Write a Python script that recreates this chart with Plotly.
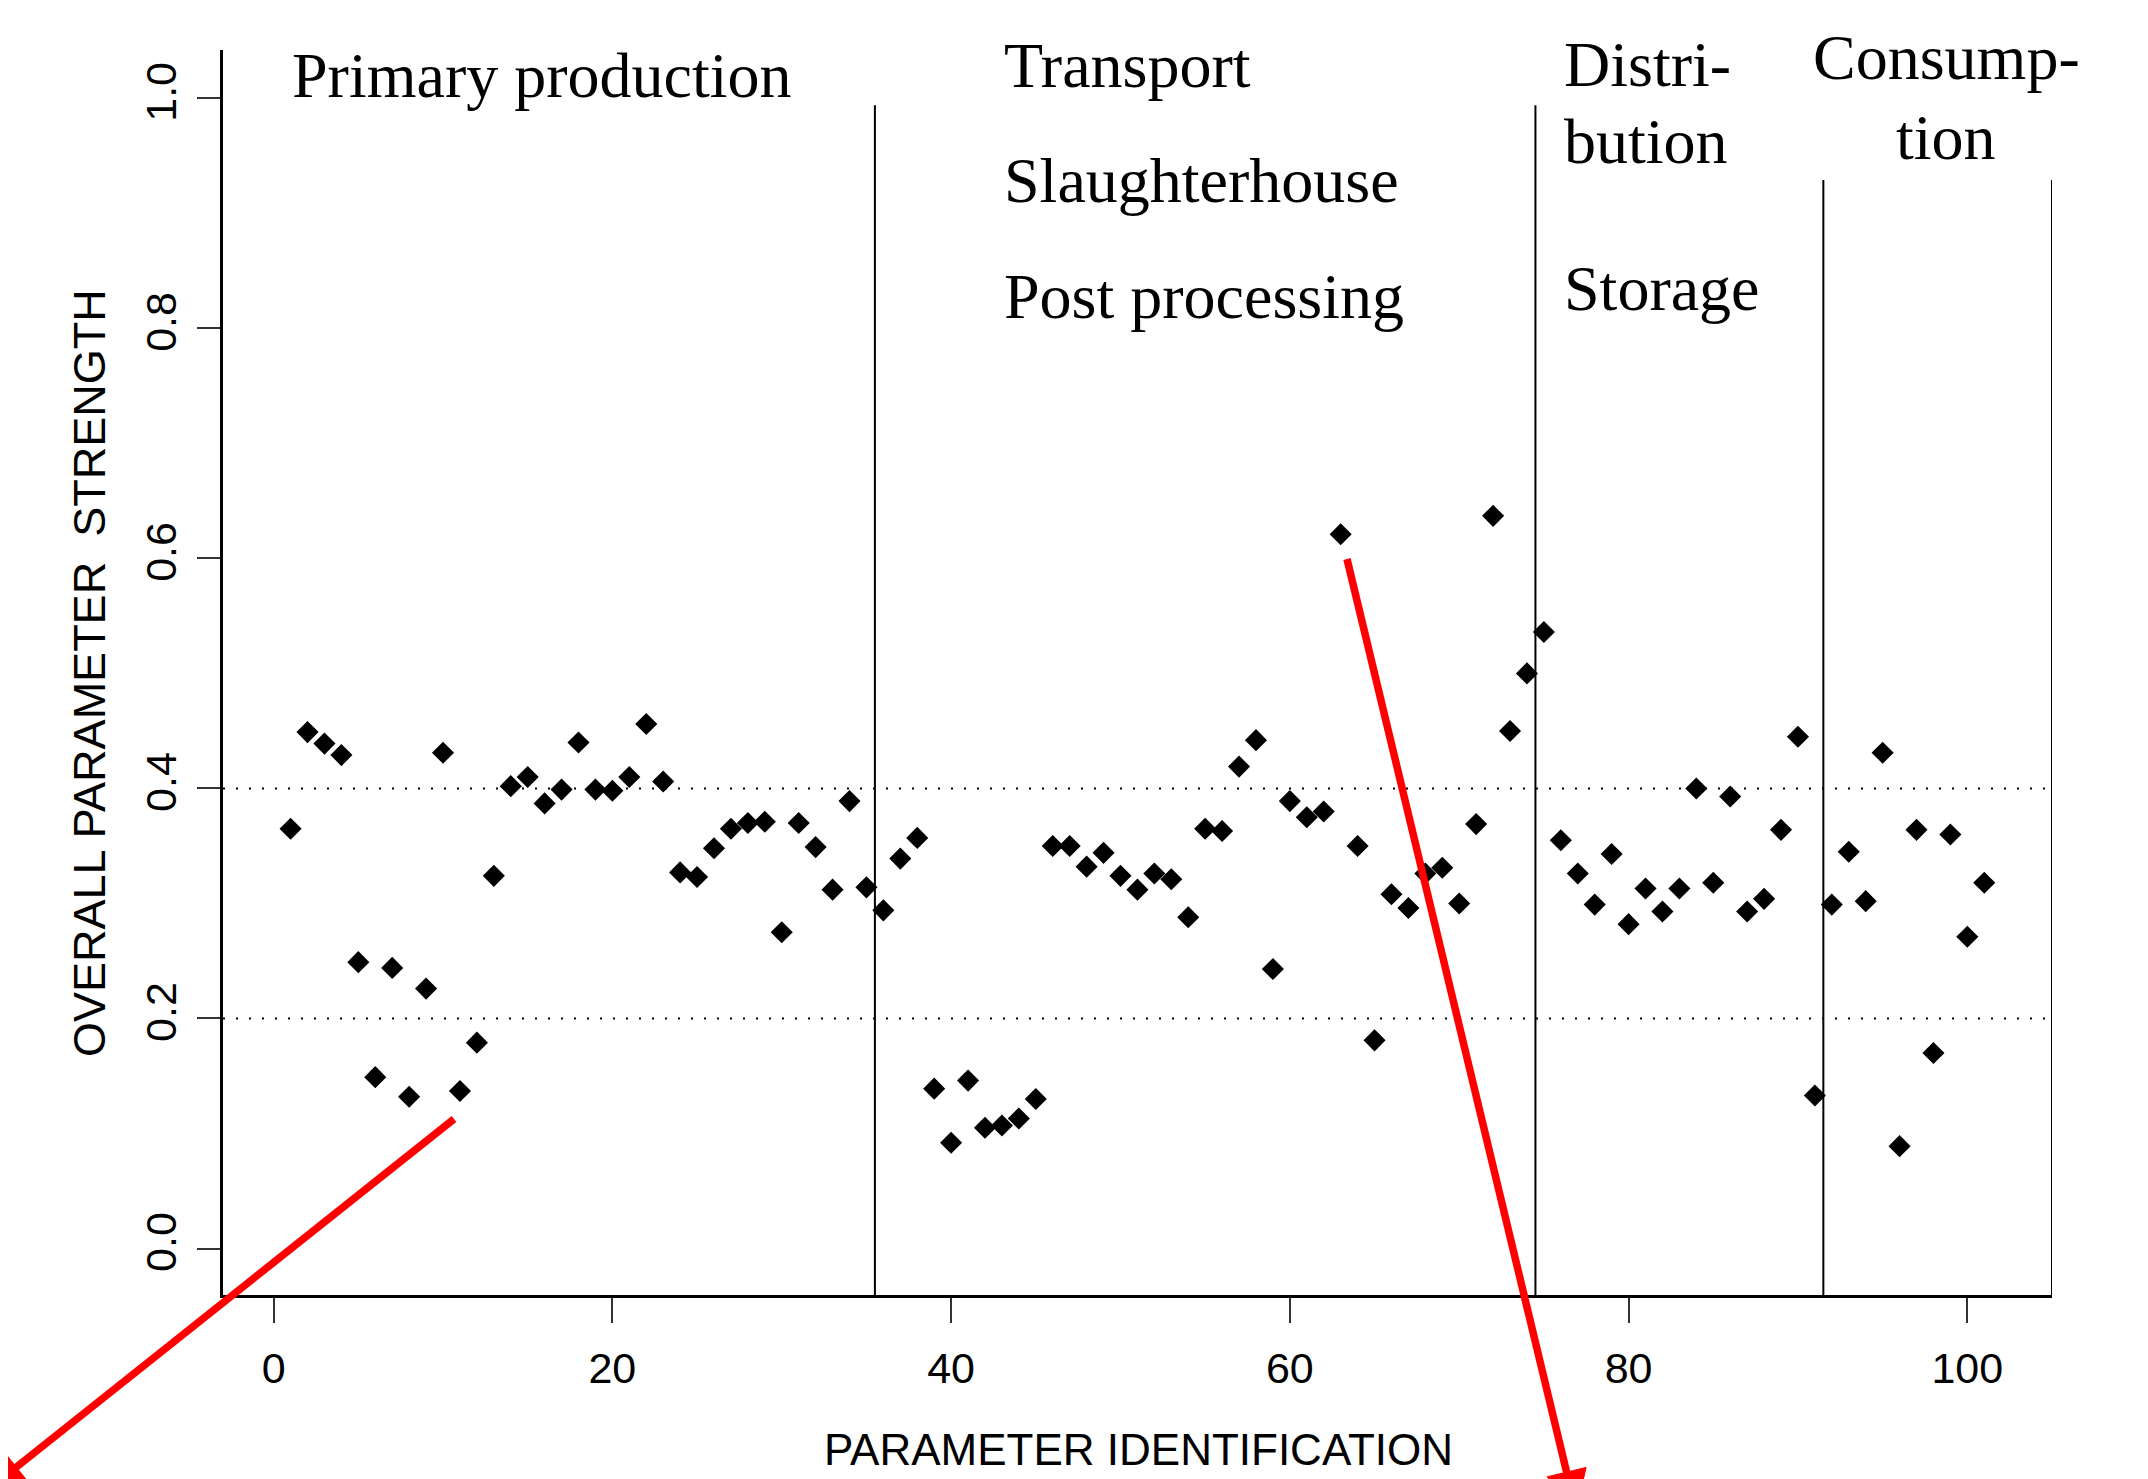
import math
import plotly.graph_objects as go

# ---------------- data ----------------
param_id = list(range(1, 102))
strength = [
    0.365, 0.449, 0.439, 0.429, 0.249, 0.149, 0.244, 0.132, 0.226, 0.431,
    0.137, 0.179, 0.324, 0.402, 0.410, 0.387, 0.399, 0.440, 0.399, 0.398,
    0.410, 0.456, 0.406, 0.327, 0.323, 0.348, 0.365, 0.370, 0.371, 0.275,
    0.370, 0.349, 0.312, 0.389, 0.314, 0.294, 0.339, 0.357, 0.139, 0.092,
    0.146, 0.105, 0.107, 0.113, 0.130, 0.350, 0.350, 0.332, 0.344, 0.324,
    0.312, 0.326, 0.321, 0.288, 0.365, 0.363, 0.419, 0.442, 0.243, 0.389,
    0.375, 0.380, 0.621, 0.350, 0.181, 0.308, 0.296, 0.326, 0.331, 0.300,
    0.369, 0.637, 0.450, 0.500, 0.536, 0.355, 0.326, 0.299, 0.343, 0.282,
    0.313, 0.293, 0.313, 0.400, 0.318, 0.393, 0.293, 0.304, 0.364, 0.445,
    0.133, 0.299, 0.345, 0.302, 0.431, 0.089, 0.364, 0.170, 0.360, 0.271,
    0.318,
]
x_ticks = [0, 20, 40, 60, 80, 100]
y_ticks = [0.0, 0.2, 0.4, 0.6, 0.8, 1.0]
stage_bounds = [35.5, 74.5, 91.5, 105.0]
stage_bound_tops = [0.994, 0.994, 0.929, 0.929]
ref_levels = [0.2, 0.4]

# ---------------- layout constants ----------------
PAGE_OFF = 8  # default body margin of the html page
W, H = 2148 - PAGE_OFF, 1479 - PAGE_OFF
ML, MR, MT, MB = 223 - PAGE_OFF, 96, 50 - PAGE_OFF, 184
PW, PH = W - ML - MR, H - MT - MB
X_RANGE = [-2.99, 105.0]
Y_RANGE = [-0.0404, 1.042]


def px_x(px):
    """page pixel -> paper x"""
    return (px - PAGE_OFF - ML) / PW


def px_y(py):
    """page pixel -> paper y"""
    return (H - MB - (py - PAGE_OFF)) / PH


SANS = "Arial, Liberation Sans, sans-serif"
SERIF = "Times New Roman, Liberation Serif, serif"

fig = go.Figure()
fig.add_trace(go.Scatter(
    x=param_id, y=strength, mode="markers",
    marker=dict(symbol="diamond", size=17, color="black", line=dict(width=0)),
    showlegend=False, cliponaxis=False,
))

shapes = []
for lvl in ref_levels:
    shapes.append(dict(type="line", xref="x", yref="y", x0=X_RANGE[0], x1=stage_bounds[-1],
                       y0=lvl, y1=lvl, line=dict(color="black", width=2, dash="2px,11px"),
                       layer="below"))
for xb, top in zip(stage_bounds, stage_bound_tops):
    shapes.append(dict(type="line", xref="x", yref="y", x0=xb, x1=xb,
                       y0=Y_RANGE[0], y1=top, line=dict(color="black", width=2)))

# red overlay arrows: (tail, tip) in page pixels; heads mostly run off the page edge
arrows = [((454, 1119), (-15, 1492)), ((1347, 559), (1576, 1511))]
HEAD_LEN, HEAD_HALF = 40, 20
for (sx, sy), (tx, ty) in arrows:
    d = math.hypot(tx - sx, ty - sy)
    ux, uy = (tx - sx) / d, (ty - sy) / d
    nx, ny = -uy, ux
    bx, by = tx - HEAD_LEN * ux, ty - HEAD_LEN * uy
    shapes.append(dict(type="line", xref="paper", yref="paper",
                       x0=px_x(sx), y0=px_y(sy), x1=px_x(bx + 2 * ux), y1=px_y(by + 2 * uy),
                       line=dict(color="#ff0000", width=7.5)))
    pts = [(tx, ty), (bx + HEAD_HALF * nx, by + HEAD_HALF * ny), (bx - HEAD_HALF * nx, by - HEAD_HALF * ny)]
    path = "M " + " L ".join(f"{px_x(px):.5f},{px_y(py):.5f}" for px, py in pts) + " Z"
    shapes.append(dict(type="path", xref="paper", yref="paper", path=path,
                       fillcolor="#ff0000", line=dict(color="#ff0000", width=1)))

annotations = []
# stage labels: (text, page px x, page px center y, anchor)
labels = [
    ("Primary production", 290, 75, "left"),
    ("Transport", 1002, 65, "left"),
    ("Slaughterhouse", 1002, 181, "left"),
    ("Post processing", 1002, 296, "left"),
    ("Distri-", 1562, 64, "left"),
    ("bution", 1562, 141, "left"),
    ("Storage", 1562, 288, "left"),
    ("Consump-", 1946, 57, "center"),
    ("tion", 1946, 137, "center"),
]
for txt, lx, ly, anc in labels:
    annotations.append(dict(text=txt, xref="paper", yref="paper", x=px_x(lx), y=px_y(ly),
                            xanchor=anc, yanchor="middle", showarrow=False,
                            font=dict(family=SERIF, size=64, color="black")))

# axis titles
annotations.append(dict(text="PARAMETER IDENTIFICATION", xref="paper", yref="paper",
                        x=px_x(1138), y=px_y(1449), xanchor="center", yanchor="middle",
                        showarrow=False, font=dict(family=SANS, size=44, color="black")))
annotations.append(dict(text="OVERALL PARAMETER\u00a0 STRENGTH", xref="paper", yref="paper",
                        x=px_x(89), y=px_y(673), xanchor="center", yanchor="middle",
                        textangle=-90, showarrow=False,
                        font=dict(family=SANS, size=45, color="black")))

fig.update_layout(
    width=W, height=H,
    margin=dict(l=ML, r=MR, t=MT, b=MB, autoexpand=False),
    paper_bgcolor="white", plot_bgcolor="white",
    shapes=shapes, annotations=annotations,
    xaxis=dict(range=X_RANGE, showgrid=False, zeroline=False, showline=True,
               linecolor="black", linewidth=3, ticks="outside", ticklen=25, tickwidth=2,
               tickcolor="#333", tickvals=x_ticks, ticktext=[str(v) for v in x_ticks],
               tickfont=dict(family=SANS, size=43, color="black"), ticklabelstandoff=8),
    yaxis=dict(range=Y_RANGE, showgrid=False, zeroline=False, showline=True,
               linecolor="black", linewidth=3, ticks="outside", ticklen=23, tickwidth=2,
               tickcolor="#333", tickvals=y_ticks, ticktext=[f"{v:.1f}" for v in y_ticks],
               tickangle=-90, tickfont=dict(family=SANS, size=43, color="black"),
               ticklabelstandoff=4),
)

fig.write_html("out.html")
